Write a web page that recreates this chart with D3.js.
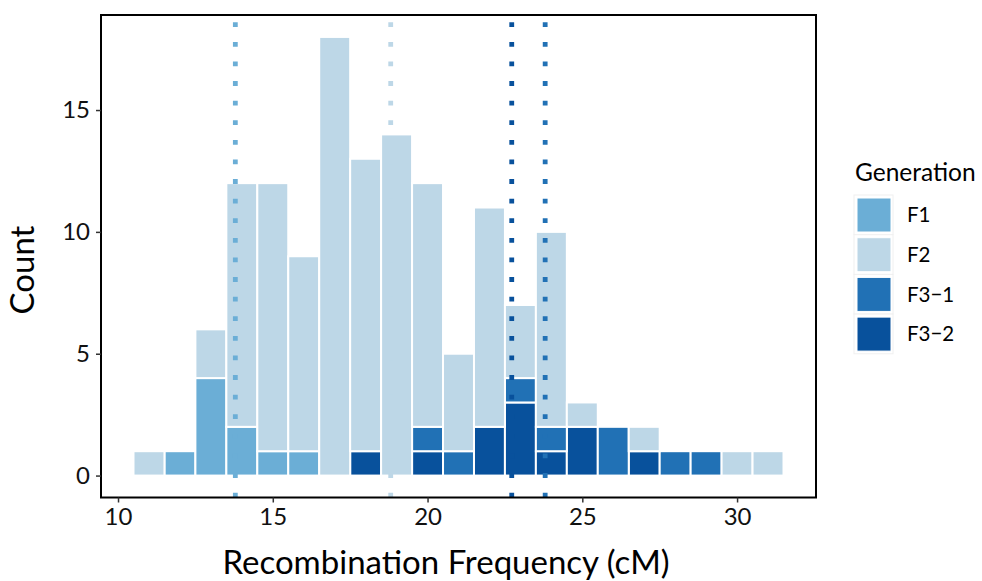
<!DOCTYPE html>
<html>
<head>
<meta charset="utf-8">
<script src="https://cdn.jsdelivr.net/npm/d3@7"></script>
<style>
  body { margin: 0; background: #fff; }
  svg { display: block; }
  text { font-family: "Lato", "Noto Sans", sans-serif; }
</style>
</head>
<body>
<div id="chart"></div>
<script>
// ---- data ----
const binCenters = [11,12,13,14,15,16,17,18,19,20,21,22,23,24,25,26,27,28,29,30,31];
const countF1  = [0,1,4,2,1,1,0,0,0,0,0,0,0,0,0,0,0,0,0,0,0];
const countF2  = [1,0,2,10,11,8,18,12,14,10,4,9,3,8,1,0,1,0,0,1,1];
const countF31 = [0,0,0,0,0,0,0,0,0,1,1,0,1,1,0,2,0,1,1,0,0];
const countF32 = [0,0,0,0,0,0,0,1,0,1,0,2,3,1,2,0,1,0,0,0,0];
const generations = ["F1", "F2", "F3\u22121", "F3\u22122"];
const genColors = ["#6baed6", "#bdd7e7", "#2171b5", "#08519c"];
const genMeans = [13.79, 18.81, 23.80, 22.72];
const xTicks = [10, 15, 20, 25, 30];
const yTicks = [0, 5, 10, 15];
const binWidth = 1;

// ---- layout ----
const W = 982, H = 581;
const panel = { left: 101, right: 816, top: 15, bottom: 497.5 };

const svg = d3.select("#chart").append("svg").attr("width", W).attr("height", H);

const rows = binCenters.map((c, i) => ({
  x: c,
  "F1": countF1[i], "F2": countF2[i], "F3\u22121": countF31[i], "F3\u22122": countF32[i]
}));
const stackOrder = ["F3\u22122", "F3\u22121", "F1", "F2"];
const series = d3.stack().keys(stackOrder)(rows);

const xMin = d3.min(binCenters) - binWidth / 2, xMax = d3.max(binCenters) + binWidth / 2;
const xPad = (xMax - xMin) * 0.05;
const x = d3.scaleLinear().domain([xMin - xPad, xMax + xPad]).range([panel.left, panel.right]);
const yMaxVal = d3.max(rows, r => r["F1"] + r["F2"] + r["F3\u22121"] + r["F3\u22122"]);
const yPad = yMaxVal * 0.05;
const y = d3.scaleLinear().domain([-yPad, yMaxVal + yPad]).range([panel.bottom, panel.top]);
const color = d3.scaleOrdinal().domain(generations).range(genColors);

// bars
const g = svg.append("g");
series.forEach(s => {
  g.selectAll(null).data(s.filter(d => d[1] > d[0])).enter().append("rect")
    .attr("x", d => x(d.data.x - binWidth / 2))
    .attr("width", d => x(d.data.x + binWidth / 2) - x(d.data.x - binWidth / 2))
    .attr("y", d => y(d[1]))
    .attr("height", d => y(d[0]) - y(d[1]))
    .attr("fill", color(s.key))
    .attr("stroke", "#fff")
    .attr("stroke-width", 2);
});

// mean lines
const meanData = generations.map((gname, i) => ({ g: gname, m: genMeans[i] }));
svg.append("g").selectAll("path").data(meanData).enter().append("path")
  .attr("d", d => `M${x(d.m)},${panel.bottom}L${x(d.m)},${panel.top}`)
  .attr("stroke", d => color(d.g))
  .attr("stroke-width", 4.8)
  .attr("stroke-dasharray", "4.8 14.8")
  .attr("fill", "none");

// panel border
svg.append("rect")
  .attr("x", panel.left).attr("y", panel.top)
  .attr("width", panel.right - panel.left).attr("height", panel.bottom - panel.top)
  .attr("fill", "none").attr("stroke", "#000").attr("stroke-width", 2);

// axes
const xAxis = svg.append("g").attr("transform", `translate(0,${panel.bottom})`)
  .call(d3.axisBottom(x).tickValues(xTicks).tickSize(5).tickPadding(5).tickFormat(d3.format("d")));
const yAxis = svg.append("g").attr("transform", `translate(${panel.left},0)`)
  .call(d3.axisLeft(y).tickValues(yTicks).tickSize(5).tickPadding(6).tickFormat(d3.format("d")));
[xAxis, yAxis].forEach(a => {
  a.select(".domain").remove();
  a.selectAll(".tick line").attr("stroke", "#333").attr("stroke-width", 1.5);
  a.selectAll(".tick text").attr("fill", "#111").style("font-size", "24px").style("font-family", "Lato, sans-serif");
});

// axis titles
svg.append("text")
  .attr("x", 446).attr("y", 574)
  .attr("text-anchor", "middle")
  .style("font-size", "33px").attr("fill", "#000")
  .text("Recombination Frequency (cM)");
svg.append("text")
  .attr("transform", `translate(34,270) rotate(-90)`)
  .attr("text-anchor", "middle")
  .style("font-size", "33px").attr("fill", "#000")
  .text("Count");

// legend
const leg = svg.append("g").attr("transform", "translate(854,0)");
leg.append("text").attr("x", 1).attr("y", 181).style("font-size", "24.5px").attr("fill", "#000").text("Generation");
const items = leg.selectAll("g.item").data(generations).enter().append("g")
  .attr("transform", (d, i) => `translate(0,${195 + i * 39.7})`);
items.append("rect").attr("x", 0).attr("y", 0).attr("width", 39).attr("height", 39.7)
  .attr("fill", "#fff").attr("stroke", "#f0f0f0").attr("stroke-width", 1);
items.append("rect").attr("x", 3).attr("y", 3).attr("width", 34).attr("height", 34)
  .attr("fill", d => color(d)).attr("stroke", "#fff").attr("stroke-width", 1);
items.append("text").attr("x", 53).attr("y", 20).attr("dy", "0.35em")
  .style("font-size", "20.5px").attr("fill", "#000").text(d => d);
</script>
</body>
</html>
